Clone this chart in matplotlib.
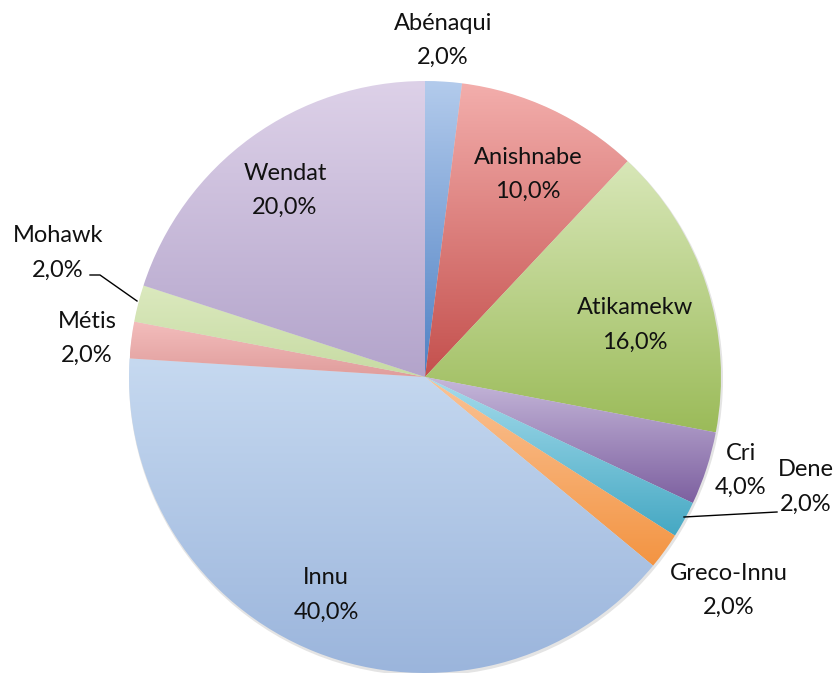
import numpy as np
import matplotlib.pyplot as plt
from matplotlib.colors import LinearSegmentedColormap

# données du graphique
nations = ['Abénaqui', 'Anishnabe', 'Atikamekw', 'Cri', 'Dene', 'Greco-Innu',
           'Innu', 'Métis', 'Mohawk', 'Wendat']
pourcentages = [2.0, 10.0, 16.0, 4.0, 2.0, 2.0, 40.0, 2.0, 2.0, 20.0]

# dégradés (haut, bas) façon Excel
couleurs = [('#b3cbec', '#4f81c4'),
            ('#f3aeac', '#c4504d'),
            ('#d8e7b8', '#9bbb59'),
            ('#c6b8da', '#7d60a0'),
            ('#a6dcec', '#45a8c3'),
            ('#fac396', '#f39442'),
            ('#c6d9f0', '#9bb5dc'),
            ('#f3bdbc', '#e09d9c'),
            ('#dbe9be', '#c7dba3'),
            ('#ddd1e8', '#b3a4cb')]

# position des étiquettes en pixels (x, y depuis le haut), centre du bloc
pos_etiquettes = [(443, 40), (528, 174), (635, 325), (741, 470), (806, 487),
                  (729, 590), (326, 595), (87, 338), (58, 253), (285, 190)]

W, H = 838, 673
cx, cy, r = 425, 377, 296

fig = plt.figure(figsize=(W / 100, H / 100), dpi=100)
ax = fig.add_axes([0, 0, 1, 1])

wedges, _ = ax.pie(pourcentages, startangle=90, counterclock=False,
                   center=(cx, H - cy), radius=r, frame=True,
                   wedgeprops=dict(linewidth=0, edgecolor='none'))

# ombre légère
ombre = plt.Circle((cx + 1, H - cy - 2), r + 1, color='#e4e4e4', zorder=0, lw=0)
ax.add_patch(ombre)

grad = np.linspace(0, 1, 256).reshape(-1, 1)
for w, (haut, bas) in zip(wedges, couleurs):
    w.set_facecolor('none')
    bb = w.get_path().get_extents(w.get_transform() - ax.transData)
    cmap = LinearSegmentedColormap.from_list('g', [bas, haut])
    im = ax.imshow(grad, cmap=cmap, origin='lower', aspect='auto',
                   extent=[bb.x0, bb.x1, bb.y0, bb.y1], zorder=1,
                   interpolation='bilinear')
    im.set_clip_path(w)

ax.set_xlim(0, W)
ax.set_ylim(0, H)
ax.set_aspect('equal')
ax.axis('off')

police = dict(family='Lato', fontsize=17, color='#111111', ha='center',
              va='center', zorder=5)
for nom, val, (x, y) in zip(nations, pourcentages, pos_etiquettes):
    ax.text(x, H - y + 17, nom, **police)
    ax.text(x, H - y - 17, f'{val:.1f}%'.replace('.', ','), **police)

# lignes de rappel
ax.plot([90, 100, 137], [H - 275, H - 275, H - 301], color='black', lw=1, zorder=4)
ax.plot([684, 777], [H - 517, H - 512], color='black', lw=1, zorder=4)

fig.savefig('out.png', dpi=100)
